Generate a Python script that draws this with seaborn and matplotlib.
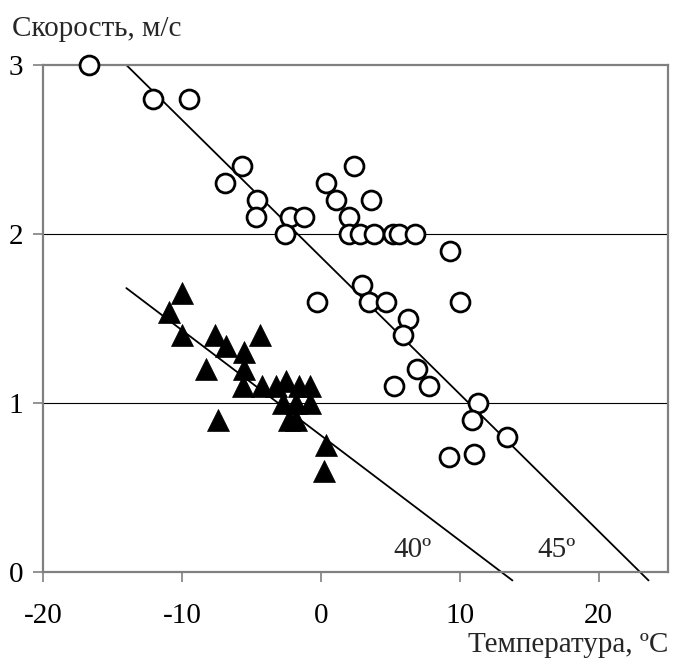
import numpy as np
import pandas as pd
import matplotlib
matplotlib.use("Agg")
import matplotlib.pyplot as plt
import seaborn as sns

# ---------------------------------------------
# DATA
# ---------------------------------------------
# open circles - 45 deg series
circ_x = [-16.7, -12.1, -9.5, -5.7, -6.9, -4.6, -4.7, -2.2, -1.2, -2.6, 0.4, 1.1, -0.3,
          2.4, 3.6, 2.0, 2.0, 2.8, 3.8, 5.2, 5.6, 6.8, 9.3, 3.0, 3.5, 4.7, 10.0,
          6.3, 5.9, 6.9, 5.3, 7.8, 11.3, 10.9, 13.4, 9.2, 11.0]
circ_y = [3.0, 2.8, 2.8, 2.4, 2.3, 2.2, 2.1, 2.1, 2.1, 2.0, 2.3, 2.2, 1.6,
          2.4, 2.2, 2.1, 2.0, 2.0, 2.0, 2.0, 2.0, 2.0, 1.9, 1.7, 1.6, 1.6, 1.6,
          1.5, 1.4, 1.2, 1.1, 1.1, 1.0, 0.9, 0.8, 0.68, 0.7]

# filled triangles - 40 deg series
tri_x = [-10.0, -10.9, -10.0, -7.6, -6.8, -4.4, -5.5, -8.3, -5.5, -5.6, -4.2, -3.2,
         -2.5, -1.6, -0.8, -2.75, -1.8, -0.8, -2.3, -1.8, -7.4, 0.4, 0.2]
tri_y = [1.65, 1.54, 1.4, 1.4, 1.34, 1.4, 1.3, 1.2, 1.2, 1.1, 1.1, 1.1,
         1.13, 1.1, 1.1, 1.0, 1.0, 1.0, 0.9, 0.9, 0.9, 0.75, 0.6]

# trend lines (end points)
line45_x = [-14.0, 23.6]
line45_y = [3.0, -0.05]
line40_x = [-14.0, 13.8]
line40_y = [1.68, -0.05]

x_ticks = [-20, -10, 0, 10, 20]
y_ticks = [0, 1, 2, 3]

# ---------------------------------------------
# PLOT
# ---------------------------------------------
sns.set_theme(style="white")
plt.rcParams["font.family"] = ["Liberation Serif", "DejaVu Serif"]
plt.rcParams["axes.unicode_minus"] = False

fig = plt.figure(figsize=(6.73, 6.59), dpi=100)
ax = fig.add_axes([43 / 673, 87 / 659, 625 / 673, 507 / 659])

# grid lines
for yv in [1, 2]:
    ax.axhline(yv, color="black", lw=0.8, zorder=1)

# trend lines
ax.plot(line45_x, line45_y, color="black", lw=1.3, clip_on=False, zorder=2)
ax.plot(line40_x, line40_y, color="black", lw=1.3, clip_on=False, zorder=2)

df_c = pd.DataFrame({"t": circ_x, "v": circ_y})
df_t = pd.DataFrame({"t": tri_x, "v": tri_y})

sns.scatterplot(data=df_c, x="t", y="v", ax=ax, marker="o", s=185,
                facecolor="white", edgecolor="black", linewidth=2.0,
                zorder=3, clip_on=False, legend=False)
sns.scatterplot(data=df_t, x="t", y="v", ax=ax, marker="^", s=250,
                facecolor="black", edgecolor="black", linewidth=0.5,
                zorder=4, clip_on=False, legend=False)

ax.text(6.6, 0.13, "40º", fontsize=21, ha="center", va="center")
ax.text(17.0, 0.13, "45º", fontsize=21, ha="center", va="center")

ax.set_xlim(-20, 25)
ax.set_ylim(0, 3)
ax.set_xticks(x_ticks)
ax.set_yticks(y_ticks)
ax.set_xlabel("")
ax.set_ylabel("")

for sp in ax.spines.values():
    sp.set_color("#808080")
    sp.set_linewidth(1.6)
    sp.set_visible(True)

ax.tick_params(axis="both", direction="out", length=7, width=1.2,
               color="#808080", labelsize=21, labelcolor="black")
ax.tick_params(axis="x", pad=15, bottom=True)
ax.tick_params(axis="y", pad=7, left=True)

fig.text(12 / 673, 1 - 36 / 659, "Скорость, м/с", fontsize=21,
         ha="left", va="baseline")
fig.text(668 / 673, 1 - 652 / 659, "Температура, ºC", fontsize=21,
         ha="right", va="baseline")

plt.savefig("out.png", dpi=100)
